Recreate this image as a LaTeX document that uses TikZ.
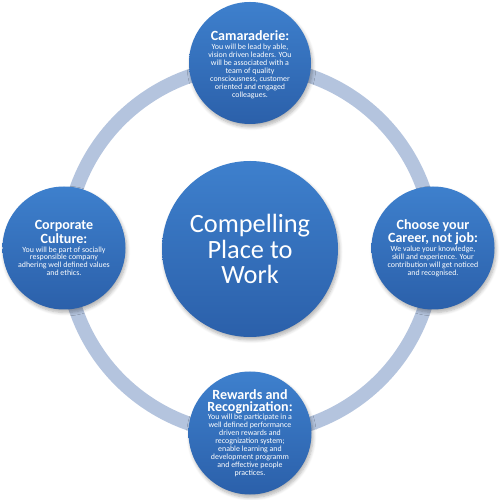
\documentclass[tikz,border=0pt]{standalone}
\usepackage{fontspec}
\setmainfont{Carlito}
\usetikzlibrary{shadows.blur}
\definecolor{bubbletop}{HTML}{3E80CD}
\definecolor{bubblebot}{HTML}{2B60AA}
\definecolor{ringcol}{HTML}{B4C4DE}
\newcommand{\bubtitle}[1]{{\fontsize{8}{8.5}\selectfont\bfseries #1}}

\begin{document}
\begin{tikzpicture}[
  bubble/.style={circle, minimum size=#1, inner sep=0pt, top color=bubbletop, bottom color=bubblebot, draw=none,
    blur shadow={shadow blur steps=6, shadow xshift=0.3mm, shadow yshift=-0.6mm, shadow opacity=30}},
  caption/.style={align=center, text=white, inner sep=0pt, font=\fontsize{4.5}{4.5}\selectfont},
  ring/.style={draw=ringcol, line width=0.28cm}
]
  \useasboundingbox (-5,-5) rectangle (5,5);

  % ring behind the circles
  \node[circle, minimum size=7.36cm, inner sep=0pt] (loop) at (0,0) {};
  \draw[ring] (loop.center) circle (3.68cm);

  \node[bubble=3.52cm] (hub) at (0,0.02) {};
  \node[bubble=2.44cm] (camar) at (0,3.74) {};
  \node[bubble=2.46cm] (career) at (3.66,0.04) {};
  \node[bubble=2.46cm] (culture) at (-3.72,0.04) {};
  \node[bubble=2.46cm] (reward) at (0,-3.66) {};

  \node[caption, font=\fontsize{15}{14.5}\selectfont] (hubt) at (hub) {Compelling\\Place to\\Work};
  \node[caption] (camart) at ([yshift=-0.03cm]camar) {\bubtitle{Camaraderie:}\\[1pt]
    You will be lead by able,\\vision driven leaders. YOu\\will be associated with a\\team of quality\\consciousness, customer\\oriented and engaged\\colleagues.};
  \node[caption] (careert) at (career) {\bubtitle{Choose your}\\\bubtitle{Career, not job:}\\[0.5pt]
    We value your knowledge,\\skill and experience. Your\\contribution will get noticed\\and recognised.};
  \node[caption] (culturet) at (culture) {\bubtitle{Corporate}\\\bubtitle{Culture:}\\[0.5pt]
    You will be part of socially\\responsible company\\adhering well defined values\\and ethics.};
  \node[caption] (rewardt) at (reward) {\bubtitle{Rewards and}\\\bubtitle{Recognization:}\\[0.5pt]
    You will be participate in a\\well defined performance\\driven rewards and\\recognization system;\\enable learning and\\development  programm\\and effective people\\practices.};
\end{tikzpicture}
\end{document}
